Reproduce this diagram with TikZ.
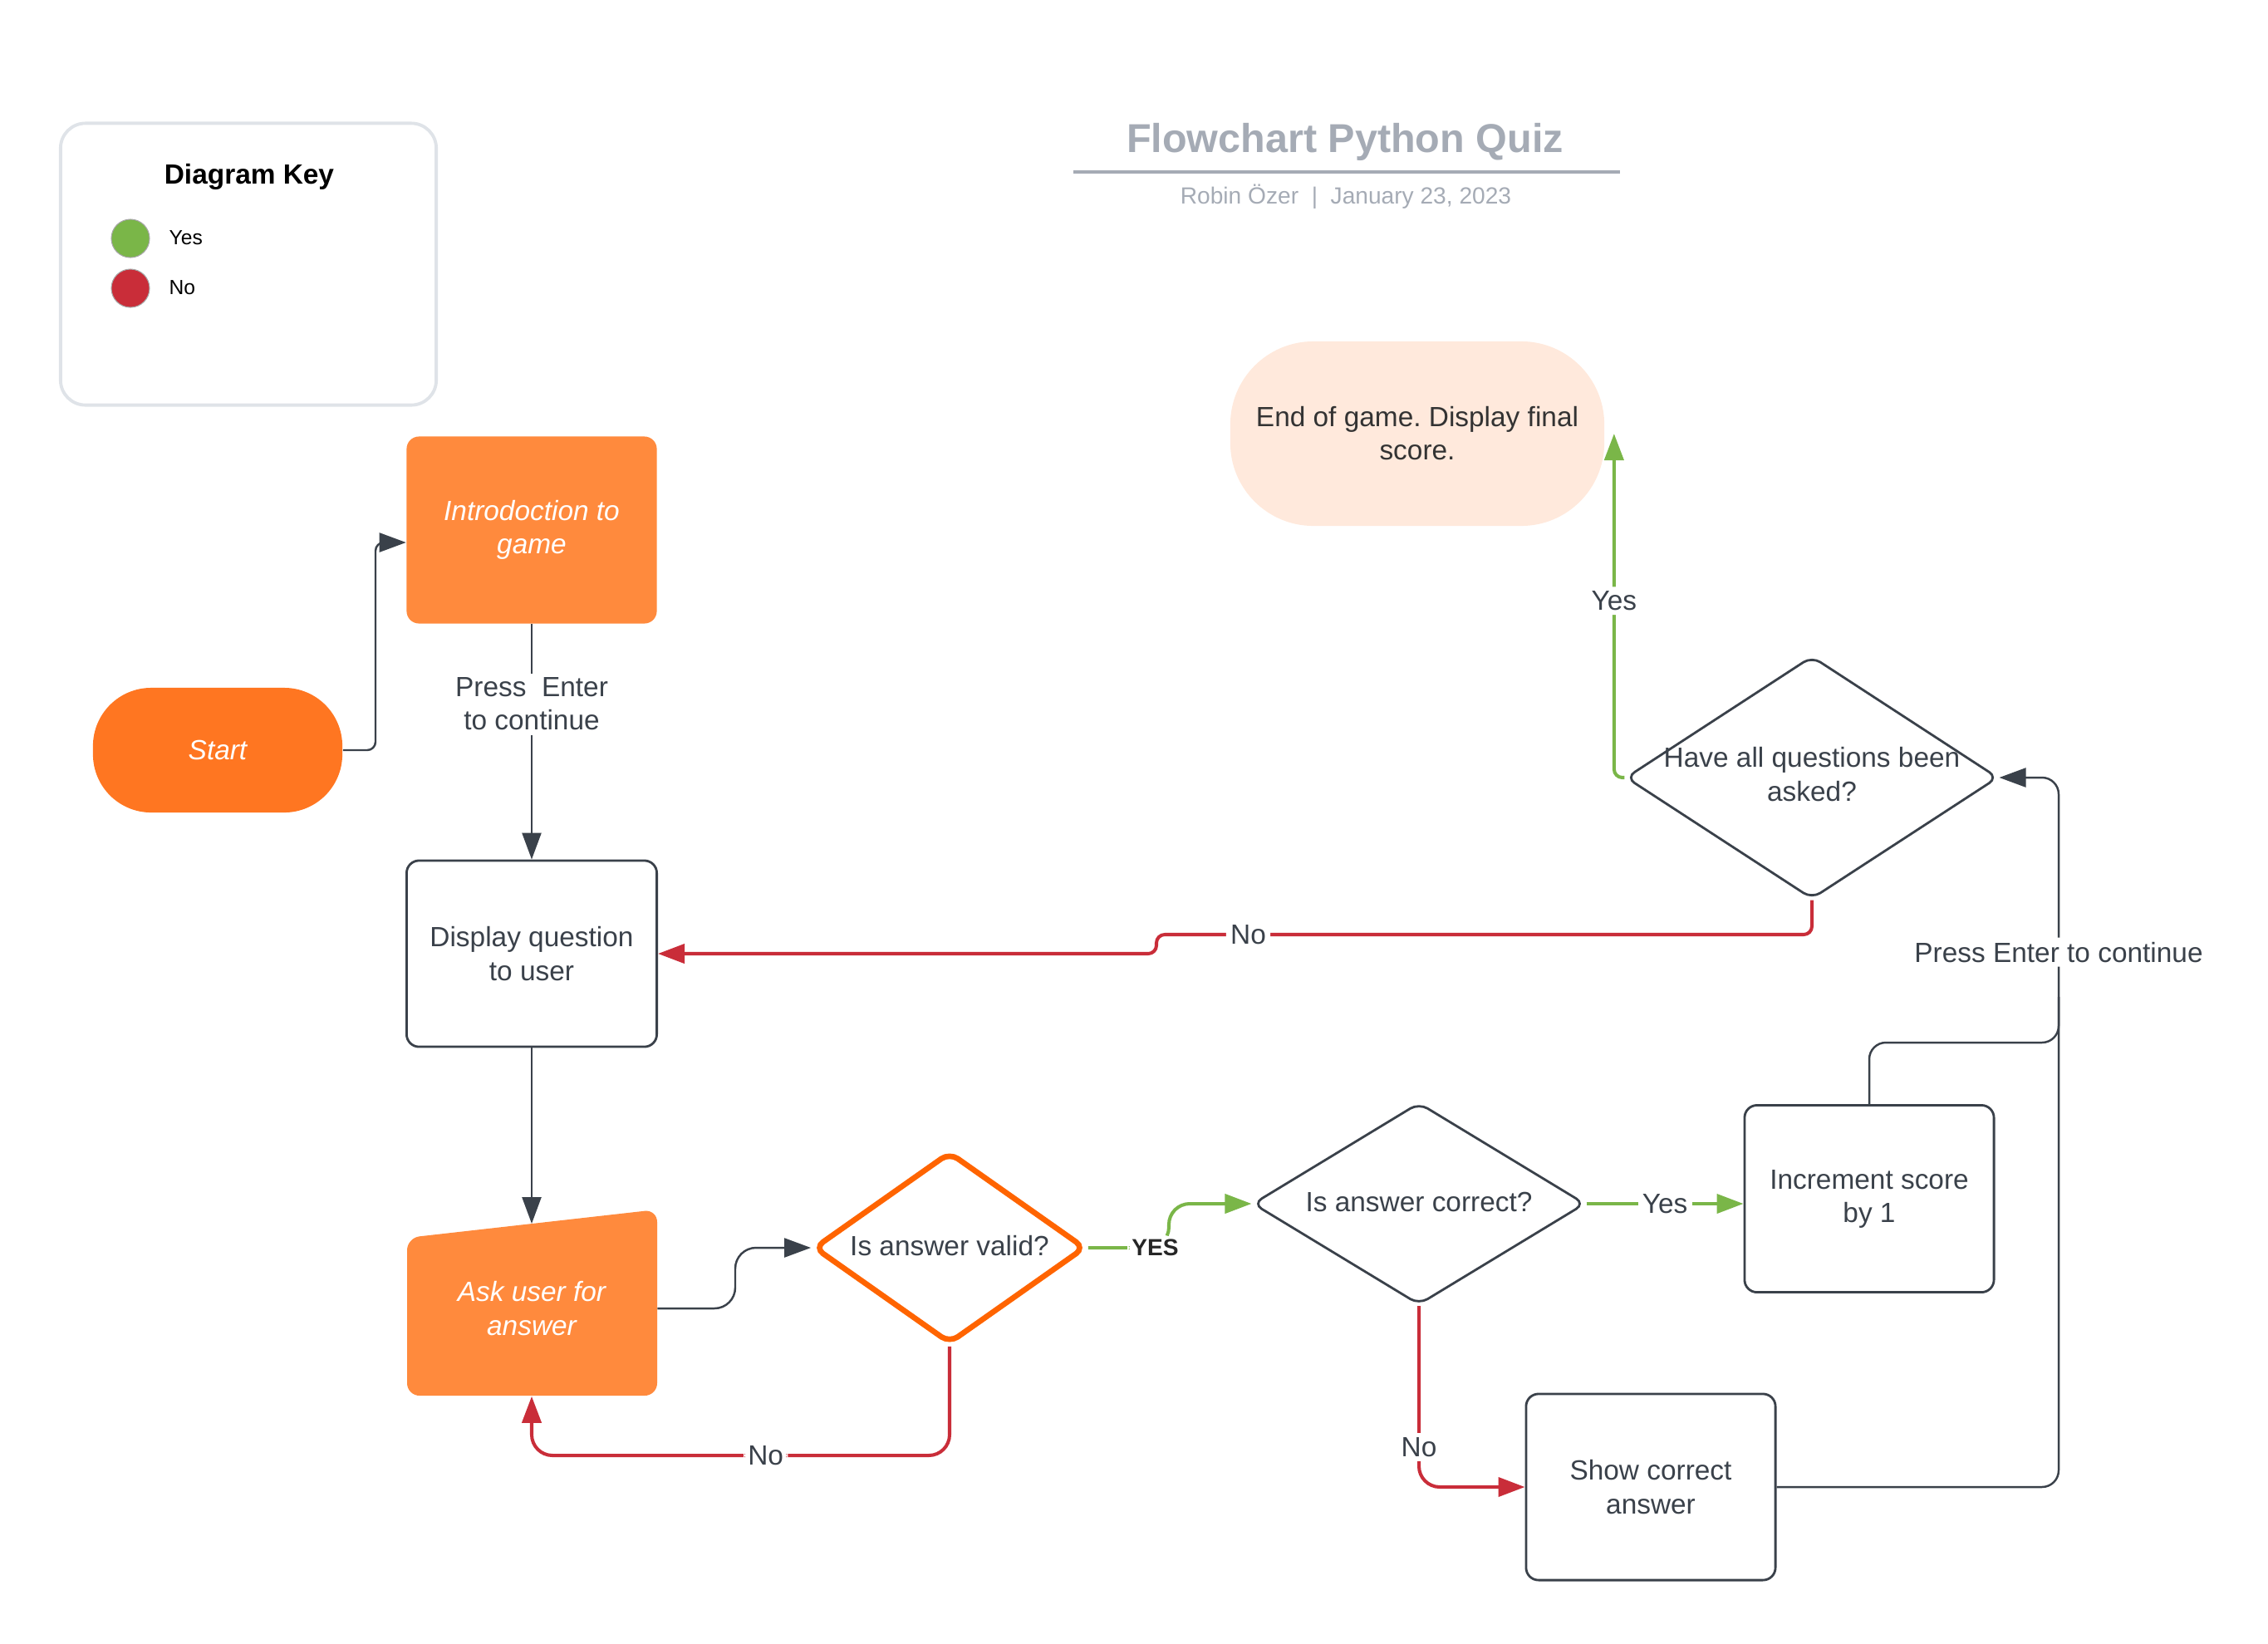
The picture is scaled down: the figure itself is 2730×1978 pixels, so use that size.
\documentclass[tikz,border=0pt]{standalone}
\usepackage{fontspec}
\setmainfont{Liberation Sans}
\usetikzlibrary{shapes.geometric,arrows.meta}

\definecolor{ink}{HTML}{3A414A}
\definecolor{yesgreen}{HTML}{7AB648}
\definecolor{nored}{HTML}{C92D39}
\definecolor{introorange}{HTML}{FF8A3D}
\definecolor{startorange}{HTML}{FF7621}
\definecolor{validorange}{HTML}{FF6400}
\definecolor{endpeach}{HTML}{FFE9DC}
\definecolor{titlegray}{HTML}{A5ABB5}
\definecolor{keygray}{HTML}{DFE3E8}

\newcommand{\nodefont}{\fontsize{9.5}{11.4}\selectfont}
\frenchspacing

\begin{document}
\begin{tikzpicture}[x=0.01cm,y=-0.01cm]

\tikzset{line/.style={draw=ink,line width=0.7pt}}
\tikzset{arrow/.style={line,-{Triangle[length=3.2mm,width=2.3mm]}}}
\tikzset{yes/.style={draw=yesgreen,line width=1.15pt,-{Triangle[length=3.2mm,width=2.3mm]}}}
\tikzset{no/.style={draw=nored,line width=1.15pt,-{Triangle[length=3.2mm,width=2.3mm]}}}
\tikzset{txt/.style={font=\nodefont,text=ink,align=center,inner sep=0pt}}
\tikzset{lbl/.style={txt,fill=white,inner sep=1.5pt}}
\tikzset{process/.style={txt,rectangle,rounded corners=0.15cm,minimum width=3.01cm,minimum height=2.25cm}}
\tikzset{decision/.style={diamond,draw=ink,line width=0.8pt,fill=white,rounded corners=0.12cm,inner sep=0pt}}
\tikzset{dot/.style={circle,draw=black!35,line width=0.3pt,minimum size=0.46cm,inner sep=0pt}}

\useasboundingbox (0,0) rectangle (2730,1978);

% key and title
\node[draw=keygray,line width=1.1pt,rounded corners=0.3cm,minimum width=4.52cm,minimum height=3.39cm] (key) at (299,318) {};
\node[font=\fontsize{9.5}{11}\selectfont\bfseries] (keytitle) at (300,213) {Diagram Key};
\node[dot,fill=yesgreen] (yesdot) at (157,287) {};
\node[dot,fill=nored] (nodot) at (157,347) {};
\node[anchor=west,font=\fontsize{7}{8}\selectfont,inner sep=0pt] (yeskey) at (203,286) {Yes};
\node[anchor=west,font=\fontsize{7}{8}\selectfont,inner sep=0pt] (nokey) at (203,346) {No};

\node[font=\fontsize{13.8}{16}\selectfont\bfseries,text=titlegray] (title) at (1619,171) {Flowchart Python Quiz};
\draw[titlegray,line width=1.1pt] (1292,207) -- (1950,207);
\node[font=\fontsize{8}{9}\selectfont,text=titlegray] (subtitle) at (1620,237) {Robin Özer~~|~~January 23, 2023};

% boxes
\node[process,fill=startorange,text=white,font=\nodefont\itshape,minimum width=3cm,minimum height=1.5cm,rounded corners=0.7cm] (start) at (262,903) {Start};
\node[process,fill=introorange,text=white,font=\nodefont\itshape] (intro) at (640,638) {Introdoction to\\game};
\node[process,draw=ink,line width=0.8pt,minimum height=2.24cm] (disp) at (640,1148) {Display question\\to user};
\fill[introorange,rounded corners=0.15cm] (490,1490) -- (791,1456) -- (791,1680) -- (490,1680) -- cycle;
\coordinate (asktop) at (640,1473);
\node[process,text=white,font=\nodefont\itshape,minimum height=2.1cm] (ask) at (640,1575) {Ask user for\\answer};

\node[decision,draw=validorange,line width=1.9pt,minimum width=3.27cm,minimum height=2.31cm] (valid) at (1143,1502) {};
\node[txt] (validtxt) at (1143,1500) {Is answer valid?};
\node[decision,minimum width=4cm,minimum height=2.43cm] (correct) at (1708,1449) {};
\node[txt] (correcttxt) at (1708,1447) {Is answer correct?};
\node[process,draw=ink,line width=0.8pt,minimum width=3cm] (inc) at (2250,1443) {Increment score\\by 1};
\node[process,draw=ink,line width=0.8pt,minimum width=3cm,minimum height=2.24cm] (show) at (1987,1790) {Show correct\\answer};
\node[decision,minimum width=4.48cm,minimum height=2.92cm] (have) at (2181,936) {};
\node[txt] (havetxt) at (2181,932) {Have all questions been\\asked?};
\node[process,fill=endpeach,text=black!80,minimum width=4.5cm,minimum height=2.22cm,rounded corners=1cm] (end) at (1706,522) {End of game. Display final\\score.};

% connectors
\draw[arrow,rounded corners=0.1cm] (start.east) -- (452,903) |- ([yshift=-0.15cm]intro.west);
\draw[arrow] (intro) -- node[lbl,pos=0.34] {Press\ \ Enter\\to continue} (disp);
\draw[arrow] (disp) -- (asktop);
\draw[arrow,rounded corners=0.25cm] (ask.east) -- (885,1575) |- (valid.west);
\draw[no,rounded corners=0.25cm] (valid.south) -- (1143,1752) -| node[lbl,pos=0.22] {No} (ask.south);
\draw[yes,rounded corners=0.25cm] (valid.east) -- node[lbl,pos=0.83,font=\fontsize{8}{9}\selectfont\bfseries,text=black!85] {YES} (1407,1502) |- (correct.west);
\draw[yes] (correct.east) -- node[lbl] {Yes} (inc.west |- correct.east);
\draw[no,rounded corners=0.25cm] (correct.south) |- node[lbl,pos=0.39] {No} (show.west);
\draw[line,rounded corners=0.2cm] (inc.north) |- (2478,1255) -- (2478,1200);
\draw[arrow,rounded corners=0.2cm] (show.east) -- (2478,1790) |- node[lbl,pos=0.377] {Press Enter to continue} (have.east);
\draw[no,rounded corners=0.1cm] (have.south) |- node[lbl,pos=0.93] {No} (1392,1125) |- (disp.east);
\draw[yes,rounded corners=0.1cm] (have.west) -| node[lbl,pos=0.757] {Yes} ([xshift=0.11cm]end.east);

\end{tikzpicture}
\end{document}
